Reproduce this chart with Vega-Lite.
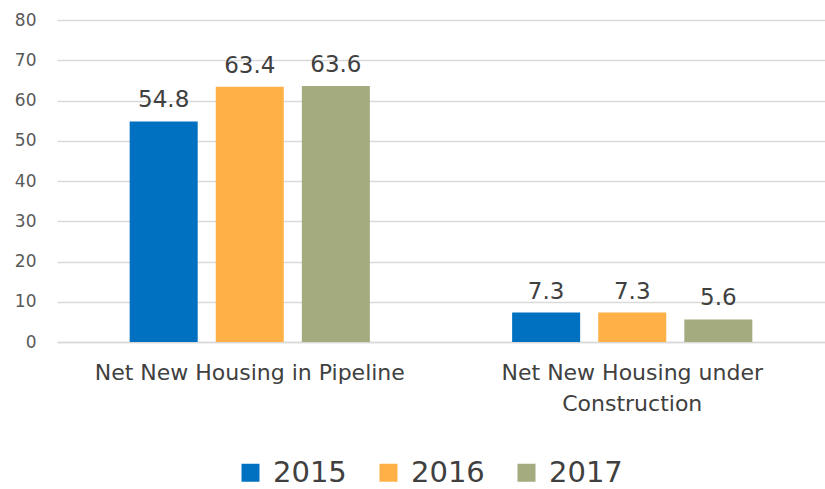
{
  "$schema": "https://vega.github.io/schema/vega-lite/v6.json",
  "width": 768,
  "height": 322,
  "autosize": "none",
  "padding": {"left": 57, "top": 20, "right": 0, "bottom": 147},
  "background": "white",
  "config": {"view": {"stroke": null}, "font": "DejaVu Sans"},
  "data": {"values": [
    {"category": "Net New Housing in Pipeline", "year": "2015", "value": 54.8},
    {"category": "Net New Housing in Pipeline", "year": "2016", "value": 63.4},
    {"category": "Net New Housing in Pipeline", "year": "2017", "value": 63.6},
    {"category": "Net New Housing under Construction", "year": "2015", "value": 7.3},
    {"category": "Net New Housing under Construction", "year": "2016", "value": 7.3},
    {"category": "Net New Housing under Construction", "year": "2017", "value": 5.6}
  ]},
  "encoding": {
    "x": {"field": "category", "type": "nominal", "sort": null,
      "scale": {"paddingInner": 0.372, "paddingOuter": 0.19},
      "axis": {"title": null, "labelAngle": 0, "ticks": false, "domainColor": "#d9d9d9", "domainWidth": 1.5,
        "labelFontSize": 22, "labelColor": "#404040", "labelPadding": 20, "labelLineHeight": 31, "labelLimit": 0,
        "labelExpr": "datum.value == 'Net New Housing under Construction' ? ['Net New Housing under', 'Construction'] : datum.value"}},
    "xOffset": {"field": "year", "type": "nominal", "scale": {"paddingInner": 0.21, "paddingOuter": 0}},
    "y": {"field": "value", "type": "quantitative",
      "scale": {"domain": [0, 80]},
      "axis": {"title": null, "values": [0,10,20,30,40,50,60,70,80], "labelOverlap": false, "domain": false, "ticks": false,
        "gridColor": "#d9d9d9", "gridWidth": 1.5, "labelFontSize": 17, "labelColor": "#595959", "labelPadding": 21}}
  },
  "layer": [
    {"mark": {"type": "bar"},
     "encoding": {"color": {"field": "year", "type": "nominal",
       "scale": {"domain": ["2015", "2016", "2017"], "range": ["#0070c0", "#ffb147", "#a3ab7f"]},
       "legend": {"title": null, "orient": "none", "direction": "horizontal", "legendX": 179, "legendY": 438,
         "symbolType": "square", "symbolSize": 324, "symbolStrokeWidth": 0, "labelFontSize": 29, "labelColor": "#404040",
         "columnPadding": 27, "labelOffset": 8}}}},
    {"mark": {"type": "text", "baseline": "bottom", "dy": -9, "fontSize": 23, "color": "#404040"},
     "encoding": {"text": {"field": "value", "type": "quantitative", "format": ".1f"}}}
  ]
}
